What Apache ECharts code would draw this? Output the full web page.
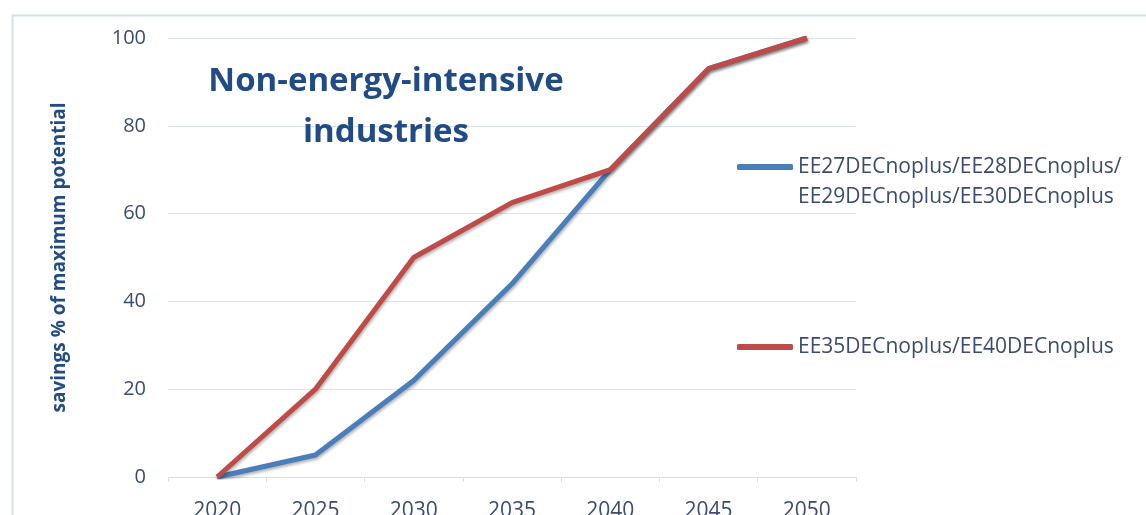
<!DOCTYPE html>
<html>
<head>
<meta charset="utf-8">
<script src="https://cdn.jsdelivr.net/npm/echarts@6/dist/echarts.min.js"></script>
<style>html,body{margin:0;padding:0;background:#fff;}#c{width:1146px;height:515px;}</style>
</head>
<body>
<div id="c"></div>
<script>
const years = ['2020', '2025', '2030', '2035', '2040', '2045', '2050'];
const blueName = 'EE27DECnoplus/EE28DECnoplus/\nEE29DECnoplus/EE30DECnoplus';
const redName = 'EE35DECnoplus/EE40DECnoplus';
const blueValues = [0, 5, 22, 44, 70, 93, 100];
const redValues = [0, 20, 50, 62.5, 70, 93, 100];
const yTicks = { min: 0, max: 100, interval: 20 };

const FONT = '"Open Sans", Lato, sans-serif';
const TXT = '#3b4c6e';
const chart = echarts.init(document.getElementById('c'), null, { renderer: 'canvas' });
const lineShadow = { shadowColor: 'rgba(0,0,0,0.3)', shadowBlur: 3, shadowOffsetY: 2, shadowOffsetX: 1 };
chart.setOption({
  backgroundColor: '#ffffff',
  animation: false,
  graphic: [{
    type: 'rect', left: 10, top: 13, shape: { width: 1200, height: 600 },
    style: { fill: 'none', stroke: '#d3dff3', lineWidth: 2 }, z: -1
  }],
  title: {
    text: 'Non-energy-intensive\nindustries',
    left: 386, top: 56, textAlign: 'center', padding: 0,
    textStyle: { fontFamily: FONT, fontSize: 33, fontWeight: 'bold', color: '#214b85', lineHeight: 51 }
  },
  legend: [{
    data: [blueName], left: 737, top: 122, padding: 0, icon: 'roundRect', itemWidth: 56, itemHeight: 6,
    formatter: function (n) { return ' \n' + n; },
    textStyle: { fontFamily: FONT, fontSize: 21, color: TXT, lineHeight: 30 },
    selectedMode: false
  }, {
    data: [redName], left: 737, top: 332, padding: 0, icon: 'roundRect', itemWidth: 56, itemHeight: 6,
    textStyle: { fontFamily: FONT, fontSize: 21, color: TXT, lineHeight: 30 },
    selectedMode: false
  }],
  grid: { left: 168, right: 290, top: 38, bottom: 38, containLabel: false, outerBoundsMode: 'none' },
  xAxis: {
    type: 'category', data: years, boundaryGap: true,
    axisLine: { lineStyle: { color: '#d9dde8', width: 1 } },
    axisTick: { show: true, length: 5, lineStyle: { color: '#d9dde8' } },
    axisLabel: { fontFamily: FONT, fontSize: 21, color: TXT, margin: 24 }
  },
  yAxis: {
    type: 'value', min: yTicks.min, max: yTicks.max, interval: yTicks.interval,
    name: 'savings % of maximum potential', nameLocation: 'middle', nameGap: 99, nameRotate: 90,
    nameTextStyle: { fontFamily: FONT, fontSize: 19, fontWeight: 'bold', color: '#214b85' },
    axisLine: { show: false }, axisTick: { show: false },
    axisLabel: { fontFamily: FONT, fontSize: 20, color: TXT, margin: 22 },
    splitLine: { lineStyle: { color: '#dde3ef', width: 1 } }
  },
  series: [{
    name: blueName, type: 'line', data: blueValues, symbol: 'none',
    lineStyle: Object.assign({ color: '#4a7ebb', width: 5 }, lineShadow),
    itemStyle: { color: '#4a7ebb' }
  }, {
    name: redName, type: 'line', data: redValues, symbol: 'none',
    lineStyle: Object.assign({ color: '#be4b48', width: 5 }, lineShadow),
    itemStyle: { color: '#be4b48' }
  }]
});
</script>
</body>
</html>
